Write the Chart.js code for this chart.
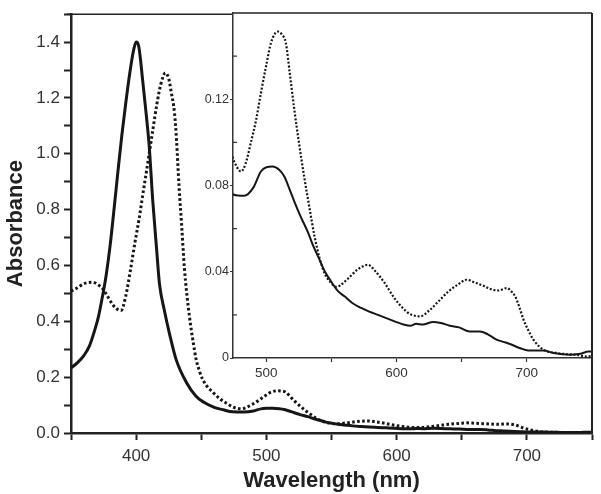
<!DOCTYPE html>
<html><head><meta charset="utf-8">
<script src="https://cdn.jsdelivr.net/npm/chart.js@4.4.0/dist/chart.umd.min.js"></script>
<style>
html,body{margin:0;padding:0;background:#fff;}
#wrap{position:relative;width:601px;height:494px;}
canvas{position:absolute;left:0;top:0;}
</style>
</head><body>
<div id="wrap"><canvas id="main" width="601" height="494"></canvas><canvas id="inset" width="601" height="494"></canvas></div>
<script>
// ---- data (wavelength in nm, absorbance) ----
const solidNm = [350,355,360,364,368,371,374,377,380,383,386,389,392,395,398,400,402,405,408,410,412.8,415.8,417.9,421.7,425.6,430.8,438.5,446,452,460,467,474,483,490,495.8,500,504.8,510,513.8,518,521.5,526,531.8,536,540.8,545,549.7,555,560,566,572.8,579,585.6,592,598.5,606,611,615,620,628,634,640.8,648,656.2,663.9,670,676.7,682,687,695,701,712.8,720.5,733.3,741,747.4,750];
const solidAbs = [0.233,0.252,0.278,0.31,0.365,0.415,0.485,0.565,0.67,0.80,0.935,1.065,1.18,1.285,1.37,1.40,1.385,1.264,1.13,1.03,0.83,0.654,0.535,0.439,0.356,0.262,0.182,0.132,0.11,0.092,0.083,0.076,0.0752,0.079,0.0865,0.0885,0.0888,0.0872,0.0842,0.078,0.0725,0.066,0.0585,0.052,0.0456,0.040,0.0355,0.031,0.0286,0.0255,0.0232,0.0215,0.020,0.0185,0.017,0.0154,0.0150,0.0159,0.0155,0.0167,0.0162,0.015,0.0142,0.0123,0.0123,0.011,0.0085,0.0075,0.0065,0.0045,0.0035,0.0035,0.0023,0.0015,0.002,0.003,0.003];
const dottedNm = [350,355,360,366.7,371,374.3,378,382,385,388.5,392,396,399,402.5,405,408.9,412.8,416,419,422.5,425,427,429.5,431,433,435,437,441,444,446,448.6,451,454,458.9,465,470,474,477,480.5,484,488,492,495.8,500,503.5,508.7,512,515,518,521.5,525,529,533,537,541,544.6,549.7,554,557.4,563,570,578,584,590.8,598,605,610,618,625,633.3,640,647,653.8,660,666.6,672,678.2,684.6,688,691,694,697.4,701,705,712.8,723,730,738,745.8,750];
const dottedAbs = [0.508,0.52,0.535,0.54,0.53,0.517,0.49,0.46,0.445,0.439,0.49,0.594,0.68,0.773,0.85,0.966,1.085,1.18,1.25,1.29,1.27,1.22,1.145,1.05,0.88,0.74,0.594,0.415,0.32,0.265,0.222,0.193,0.17,0.146,0.12,0.105,0.0934,0.089,0.0865,0.09,0.0996,0.11,0.1228,0.136,0.146,0.1514,0.15,0.146,0.132,0.115,0.10,0.0842,0.07,0.0564,0.046,0.0394,0.0348,0.033,0.034,0.037,0.041,0.0432,0.040,0.0348,0.028,0.023,0.0205,0.0193,0.022,0.027,0.031,0.034,0.0363,0.035,0.0335,0.032,0.0313,0.0324,0.031,0.0286,0.024,0.0178,0.013,0.0085,0.0038,0.0023,0.0018,0.0015,0.0007,0.001];

// ---- ticks ----
const mainXTicks = [350,400,450,500,550,600,650,700,750];
const mainXLabels = [400,500,600,700];
const mainYTicks = [0,0.1,0.2,0.3,0.4,0.5,0.6,0.7,0.8,0.9,1.0,1.1,1.2,1.3,1.4,1.5];
const mainYLabels = [0,0.2,0.4,0.6,0.8,1.0,1.2,1.4];
const insetXTicks = [500,550,600,650,700,750];
const insetXLabels = [500,600,700];
const insetYMajor = [0,0.04,0.08,0.12];
const insetYLabelText = ['0','0.04','0.08','0.12'];
const insetYMinor = [0.02,0.06,0.10,0.14];

const FAM = '"Liberation Sans", Arial, Helvetica, sans-serif';
const near = (a,b) => Math.abs(a-b) < 1e-9;
const pts = (xs, ys) => xs.map((x,i) => ({x:x, y:ys[i]}));

const mainFrame = {
  id:'mainFrame',
  afterDraw(chart){
    const a = chart.chartArea, c = chart.ctx;
    c.save(); c.strokeStyle = '#222';
    c.lineWidth = 1.5; c.beginPath(); c.moveTo(a.left-4, a.top); c.lineTo(a.right, a.top); c.stroke();
    c.lineWidth = 2; c.beginPath(); c.moveTo(a.right, a.top); c.lineTo(a.right, a.bottom+1); c.stroke();
    c.restore();
  }
};

new Chart(document.getElementById('main'), {
  type:'line',
  data:{datasets:[
    {data:pts(solidNm, solidAbs), borderColor:'#161616', borderWidth:3, pointRadius:0, cubicInterpolationMode:'monotone', fill:false},
    {data:pts(dottedNm, dottedAbs), borderColor:'#161616', borderWidth:3, borderDash:[2.6,2.4], pointRadius:0, cubicInterpolationMode:'monotone', fill:false}
  ]},
  options:{
    responsive:false, animation:false, devicePixelRatio:1,
    layout:{padding:{left:0, top:13, right:9, bottom:0}},
    plugins:{legend:{display:false}, tooltip:{enabled:false}},
    scales:{
      x:{type:'linear', min:350, max:750,
        afterBuildTicks:s=>{ s.ticks = mainXTicks.map(v=>({value:v})); },
        afterFit:s=>{ s.height = 61; },
        ticks:{autoSkip:false, maxRotation:0, padding:6, color:'#333', font:{family:FAM, size:17},
          callback:v=> mainXLabels.some(l=>near(l,v)) ? String(v) : ''},
        grid:{drawOnChartArea:false, drawTicks:true, tickLength:7, tickWidth:2, tickColor:'#222'},
        border:{display:true, color:'#222', width:2.5},
        title:{display:true, text:'Wavelength (nm)', color:'#222', font:{family:FAM, size:22, weight:'bold'}, padding:{top:0, bottom:0}}
      },
      y:{type:'linear', min:0, max:1.5,
        afterBuildTicks:s=>{ s.ticks = mainYTicks.map(v=>({value:v})); },
        afterFit:s=>{ s.width = 71; },
        ticks:{autoSkip:false, padding:4, color:'#333', font:{family:FAM, size:17},
          callback:v=> mainYLabels.some(l=>near(l,v)) ? v.toFixed(1) : ''},
        grid:{drawOnChartArea:false, drawTicks:true, tickLength:7, tickWidth:2, tickColor:'#222'},
        border:{display:true, color:'#222', width:2.5},
        title:{display:true, text:'Absorbance', color:'#222', font:{family:FAM, size:22, weight:'bold'}, padding:{top:3, bottom:0}}
      }
    }
  },
  plugins:[mainFrame]
});

const insetFrame = {
  id:'insetFrame',
  beforeDraw(chart){
    const a = chart.chartArea, c = chart.ctx;
    c.save(); c.fillStyle = '#fff'; c.fillRect(a.left, a.top, a.right-a.left, a.bottom-a.top); c.restore();
  },
  afterDraw(chart){
    const a = chart.chartArea, c = chart.ctx, ys = chart.scales.y;
    c.save(); c.strokeStyle = '#222';
    c.lineWidth = 1.5; c.beginPath(); c.moveTo(a.left, a.top); c.lineTo(a.right, a.top); c.stroke();
    c.lineWidth = 2; c.beginPath(); c.moveTo(a.right, a.top); c.lineTo(a.right, a.bottom); c.stroke();
    c.lineWidth = 1.2; c.strokeStyle = '#333';
    insetYMinor.forEach(v=>{ const p = ys.getPixelForValue(v); c.beginPath(); c.moveTo(a.left, p); c.lineTo(a.left+4, p); c.stroke(); });
    c.restore();
  }
};

new Chart(document.getElementById('inset'), {
  type:'line',
  data:{datasets:[
    {data:pts(solidNm, solidAbs), borderColor:'#161616', borderWidth:2, pointRadius:0, cubicInterpolationMode:'monotone', fill:false},
    {data:pts(dottedNm, dottedAbs), borderColor:'#161616', borderWidth:2.2, borderDash:[2,1.8], pointRadius:0, cubicInterpolationMode:'monotone', fill:false}
  ]},
  options:{
    responsive:false, animation:false, devicePixelRatio:1,
    layout:{padding:{left:193, top:13, right:9, bottom:106}},
    plugins:{legend:{display:false}, tooltip:{enabled:false}},
    scales:{
      x:{type:'linear', min:474.4, max:750,
        afterBuildTicks:s=>{ s.ticks = insetXTicks.map(v=>({value:v})); },
        afterFit:s=>{ s.height = 30; },
        ticks:{autoSkip:false, maxRotation:0, padding:3, color:'#333', font:{family:FAM, size:13.5},
          callback:v=> insetXLabels.some(l=>near(l,v)) ? String(v) : ''},
        grid:{drawOnChartArea:false, drawTicks:true, tickLength:4, tickWidth:1.2, tickColor:'#333'},
        border:{display:true, color:'#333', width:1.5}
      },
      y:{type:'linear', min:0, max:0.16,
        afterBuildTicks:s=>{ s.ticks = insetYMajor.map(v=>({value:v})); },
        afterFit:s=>{ s.width = 40; },
        ticks:{autoSkip:false, padding:1, color:'#333', font:{family:FAM, size:12.5},
          callback:v=>{ const i = insetYMajor.findIndex(l=>near(l,v)); return i>=0 ? insetYLabelText[i] : ''; }},
        grid:{drawOnChartArea:false, drawTicks:true, tickLength:3, tickWidth:1.2, tickColor:'#333'},
        border:{display:true, color:'#333', width:1.5}
      }
    }
  },
  plugins:[insetFrame]
});
</script>
</body></html>
